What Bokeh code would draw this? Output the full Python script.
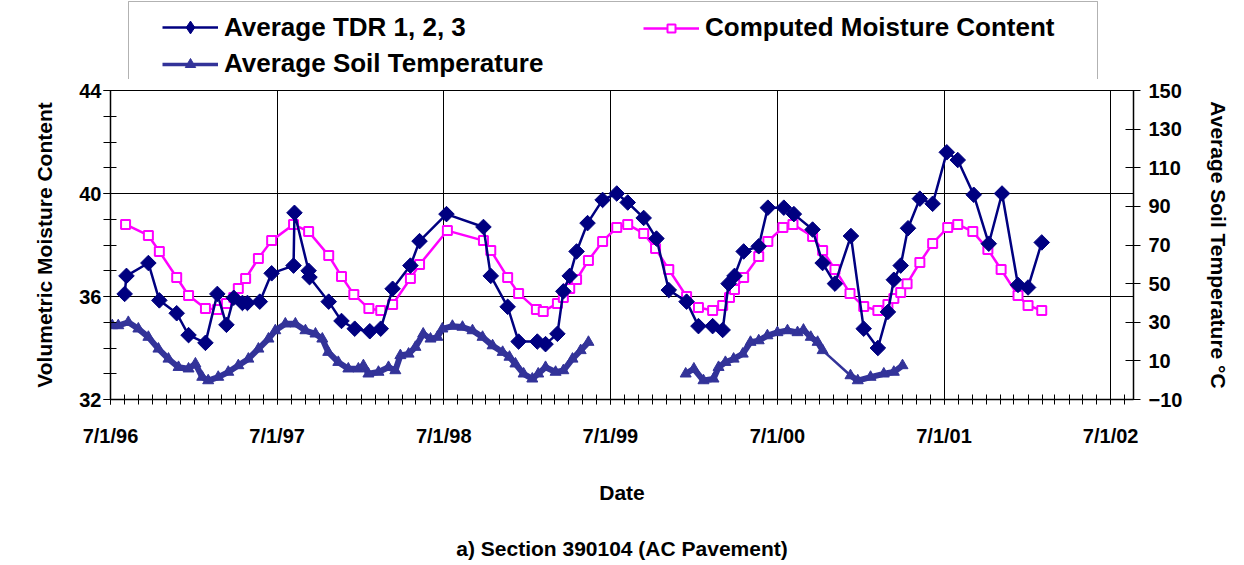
import math
import pandas as pd
from bokeh.plotting import figure
from bokeh.layouts import column
from bokeh.models import (Range1d, LinearAxis, FixedTicker, Legend, LegendItem,
                          BoxAnnotation)
from bokeh.embed import file_html
from bokeh.resources import INLINE

FONT = "Liberation Sans"

# ---------------- data ----------------
tdr_dates = [
    "1996-08-01", "1996-08-05", "1996-09-22", "1996-10-16", "1996-11-23", "1996-12-19",
    "1997-01-25", "1997-02-20", "1997-03-12", "1997-03-28", "1997-04-16", "1997-04-27",
    "1997-05-24", "1997-06-19", "1997-08-06", "1997-08-08", "1997-09-08", "1997-09-10",
    "1997-10-22", "1997-11-19", "1997-12-18", "1998-01-20", "1998-02-13", "1998-03-11",
    "1998-04-19", "1998-05-09", "1998-07-07", "1998-09-26", "1998-10-12", "1998-11-18",
    "1998-12-12", "1999-01-22", "1999-02-09", "1999-03-07", "1999-03-20", "1999-04-03",
    "1999-04-18", "1999-05-12", "1999-06-14", "1999-07-15", "1999-08-08", "1999-09-12",
    "1999-10-10", "1999-11-06", "1999-12-15", "2000-01-10", "2000-02-10", "2000-03-03",
    "2000-03-16", "2000-03-29", "2000-04-18", "2000-05-21", "2000-06-10", "2000-07-15",
    "2000-08-06", "2000-09-16", "2000-10-08", "2000-11-04", "2000-12-09", "2001-01-06",
    "2001-02-06", "2001-02-28", "2001-03-13", "2001-03-28", "2001-04-13", "2001-05-09",
    "2001-06-06", "2001-07-07", "2001-07-31", "2001-09-04", "2001-10-07", "2001-11-05",
    "2001-12-10", "2002-01-01", "2002-01-31",
]
tdr_values = [
    36.1, 36.8, 37.3, 35.85, 35.35, 34.5,
    34.2, 36.1, 34.9, 35.95, 35.75, 35.75,
    35.8, 36.9, 37.2, 39.25, 37.0, 36.75,
    35.8, 35.05, 34.75, 34.65, 34.75, 36.3,
    37.2, 38.15, 39.2, 38.7, 36.8, 35.6,
    34.25, 34.25, 34.15, 34.55, 36.2, 36.8,
    37.75, 38.85, 39.75, 40.0, 39.65, 39.05,
    38.25, 36.25, 35.8, 34.85, 34.85, 34.7,
    36.5, 36.8, 37.75, 37.95, 39.45, 39.45,
    39.2, 38.6, 37.3, 36.5, 38.35, 34.75,
    34.0, 35.4, 36.65, 37.2, 38.65, 39.8,
    39.6, 41.6, 41.3, 39.95, 38.05, 40.0,
    36.45, 36.35, 38.1,
]

mc_dates = [
    "1996-08-03", "1996-09-22", "1996-10-16", "1996-11-23", "1996-12-19", "1997-01-25",
    "1997-02-20", "1997-03-12", "1997-03-28", "1997-04-07", "1997-04-23", "1997-05-21",
    "1997-06-19", "1997-08-06", "1997-09-08", "1997-10-22", "1997-11-19", "1997-12-16",
    "1998-01-18", "1998-02-13", "1998-03-11", "1998-04-19", "1998-05-09", "1998-07-09",
    "1998-09-26", "1998-10-12", "1998-11-18", "1998-12-12", "1999-01-20", "1999-02-04",
    "1999-03-07", "1999-03-20", "1999-04-03", "1999-04-18", "1999-05-14", "1999-06-14",
    "1999-07-15", "1999-08-08", "1999-09-12", "1999-10-08", "1999-11-06", "1999-12-15",
    "2000-01-10", "2000-02-10", "2000-03-03", "2000-03-18", "2000-03-29", "2000-04-18",
    "2000-05-21", "2000-06-10", "2000-07-13", "2000-08-04", "2000-09-16", "2000-10-08",
    "2000-11-04", "2000-12-07", "2001-01-06", "2001-02-06", "2001-02-28", "2001-03-13",
    "2001-03-28", "2001-04-11", "2001-05-09", "2001-06-06", "2001-07-09", "2001-07-31",
    "2001-09-02", "2001-10-05", "2001-11-03", "2001-12-10", "2002-01-01", "2002-01-31",
]
mc_values = [
    38.8, 38.37, 37.75, 36.74, 36.04, 35.53,
    35.5, 35.73, 35.96, 36.31, 36.7, 37.48,
    38.17, 38.8, 38.52, 37.59, 36.78, 36.08,
    35.53, 35.46, 35.69, 36.7, 37.24, 38.56,
    38.17, 37.79, 36.74, 36.12, 35.5, 35.42,
    35.73, 35.96, 36.31, 36.66, 37.4, 38.14,
    38.68, 38.8, 38.45, 37.86, 37.05, 36.0,
    35.57, 35.46, 35.65, 35.96, 36.27, 36.74,
    37.55, 38.14, 38.68, 38.8, 38.33, 37.79,
    37.05, 36.12, 35.61, 35.46, 35.69, 35.92,
    36.16, 36.5, 37.32, 38.06, 38.68, 38.8,
    38.52, 37.83, 37.05, 36.04, 35.65, 35.46,
]

temp_dates = [
    "1996-07-05", "1996-07-18", "1996-08-09", "1996-08-31", "1996-09-22", "1996-10-14",
    "1996-11-05", "1996-11-27", "1996-12-19", "1997-01-03", "1997-01-18", "1997-01-31",
    "1997-02-22", "1997-03-16", "1997-04-07", "1997-04-29", "1997-05-21", "1997-06-12",
    "1997-06-27", "1997-07-19", "1997-08-10", "1997-09-01", "1997-09-23", "1997-10-08",
    "1997-10-21", "1997-11-12", "1997-12-04", "1997-12-26", "1998-01-06", "1998-01-17",
    "1998-02-08", "1998-03-02", "1998-03-17", "1998-03-28", "1998-04-15", "1998-04-30",
    "1998-05-17", "1998-06-02", "1998-06-17", "1998-06-28", "1998-07-20", "1998-08-11",
    "1998-09-02", "1998-09-24", "1998-10-16", "1998-11-07", "1998-11-22", "1998-12-05",
    "1998-12-23", "1999-01-11", "1999-01-24", "1999-02-09", "1999-03-03", "1999-03-20",
    "1999-04-09", "1999-04-27", "1999-05-14",
    "1999-09-01",
    "1999-12-13", "1999-12-31", "2000-01-21", "2000-02-12", "2000-02-23", "2000-03-09",
    "2000-03-27", "2000-04-16", "2000-05-03", "2000-05-21", "2000-06-09", "2000-07-01",
    "2000-07-23", "2000-08-14", "2000-08-27", "2000-09-12", "2000-09-27", "2000-10-08",
    "2000-12-08", "2000-12-24", "2001-01-21", "2001-02-19", "2001-03-13", "2001-04-01",
]
temp_values = [
    28.3, 28.3, 30.0, 26.6, 22.3, 16.2,
    11.0, 6.7, 5.9, 8.5, 1.6, -0.2,
    1.6, 4.2, 7.6, 11.0, 16.2, 21.4,
    25.7, 29.2, 29.2, 25.7, 24.0, 21.4,
    14.5, 9.3, 5.9, 5.9, 7.6, 3.3,
    4.2, 6.7, 5.0, 12.8, 13.6, 17.1,
    24.0, 21.4, 22.3, 26.6, 28.0, 27.5,
    25.7, 22.3, 17.9, 14.5, 12.0, 8.5,
    3.3, 0.7, 3.3, 6.7, 4.2, 5.0,
    11.0, 15.4, 19.7,
    float("nan"),
    3.3, 5.9, -0.2, 0.7, 6.7, 9.3,
    11.0, 13.6, 19.7, 20.5, 23.1, 24.7,
    25.7, 24.7, 26.0, 22.3, 19.7, 15.4,
    2.4, -0.2, 1.6, 3.3, 4.2, 7.6,
]
# index where the logger record resumes after the gap (Oct 2000 -> Dec 2000)
temp_resume = 76

tick_dates = ["1996-07-01", "1997-07-01", "1998-07-01", "1999-07-01",
              "2000-07-01", "2001-07-01", "2002-07-01"]
tick_labels = ["7/1/96", "7/1/97", "7/1/98", "7/1/99", "7/1/00", "7/1/01", "7/1/02"]
left_ticks = [32, 36, 40, 44]
right_ticks = [-10, 10, 30, 50, 70, 90, 110, 130, 150]

NAVY = "#000080"
MAG = "#FF00FF"
TEMP = "#333399"

TOP_H = 79          # height of the legend strip
W, H = 1244, 565
FL, FR = 110, 1133  # frame left / right (shared by both stacked figures)

# ---------------- main figure ----------------
def ms(s):
    return int(pd.Timestamp(s).value // 10**6)

p = figure(width=W, height=H - TOP_H, x_axis_type="datetime",
           output_backend="svg", toolbar_location=None,
           x_range=Range1d(pd.Timestamp("1996-07-01"), pd.Timestamp("2002-08-20")),
           y_range=Range1d(32, 44),
           min_border_left=FL, min_border_right=W - FR,
           min_border_top=90 - TOP_H, min_border_bottom=166)
p.background_fill_color = "white"
p.border_fill_color = "white"
p.outline_line_color = "black"
p.outline_line_width = 1
p.extra_y_ranges = {"temp": Range1d(-10, 150)}

def style_axis(ax, size="20px"):
    ax.major_label_text_font = FONT
    ax.major_label_text_font_style = "bold"
    ax.major_label_text_font_size = size
    ax.major_label_text_color = "black"
    ax.axis_label_text_font = FONT
    ax.axis_label_text_font_style = "bold"
    ax.axis_label_text_font_size = "21px"
    ax.axis_label_text_color = "black"
    ax.axis_line_color = "black"
    ax.axis_line_width = 1.5
    ax.major_tick_line_color = "black"
    ax.minor_tick_line_color = "black"
    ax.major_tick_line_width = 1
    ax.minor_tick_line_width = 1

# x axis
major = [ms(d) for d in tick_dates]
minor = [ms(d) for d in pd.date_range("1996-07-01", "2002-08-01", freq="MS")]
xa = p.xaxis[0]
xa.ticker = FixedTicker(ticks=major, minor_ticks=minor)
xa.major_label_overrides = {m: l for m, l in zip(major, tick_labels)}
xa.axis_label = "Date"
style_axis(xa)
xa.major_tick_in = 5
xa.major_tick_out = 5
xa.minor_tick_in = 5
xa.minor_tick_out = 5
xa.major_label_standoff = 20
xa.axis_label_standoff = 31

# caption carried by a tick-less second bottom axis
cap = LinearAxis(ticker=FixedTicker(ticks=[], minor_ticks=[]),
                 axis_label="a) Section 390104 (AC Pavement)")
style_axis(cap)
cap.axis_line_color = None
cap.major_tick_in = 0
cap.major_tick_out = 0
cap.minor_tick_in = 0
cap.minor_tick_out = 0
cap.major_label_standoff = 0
cap.axis_label_standoff = 30
p.add_layout(cap, "below")

# left axis
ya = p.yaxis[0]
ya.ticker = FixedTicker(ticks=left_ticks, minor_ticks=list(range(32, 45)))
ya.axis_label = "Volumetric Moisture Content"
style_axis(ya)
ya.major_tick_in = 6
ya.major_tick_out = 7
ya.minor_tick_in = 6
ya.minor_tick_out = 7
ya.major_label_standoff = 2
ya.axis_label_standoff = 20

# right axis
ra = LinearAxis(y_range_name="temp",
                ticker=FixedTicker(ticks=right_ticks, minor_ticks=[]),
                axis_label="Average Soil Temperature °C")
style_axis(ra)
ra.axis_label_orientation = "vertical"
ra.major_tick_in = 8
ra.major_tick_out = 7
ra.minor_tick_in = 0
ra.minor_tick_out = 0
ra.major_label_standoff = 8
ra.axis_label_standoff = 22
p.add_layout(ra, "right")

# grids
p.xgrid.grid_line_color = "black"
p.xgrid.grid_line_width = 1
p.ygrid.grid_line_color = "black"
p.ygrid.grid_line_width = 1

# ---------------- series ----------------
tdr_x = pd.to_datetime(tdr_dates)
mc_x = pd.to_datetime(mc_dates)
temp_x = pd.to_datetime(temp_dates)

# dense logger record -> thick band; the unrecorded stretch is a plain thin line
p.line(temp_x[:temp_resume], temp_values[:temp_resume], y_range_name="temp",
       color=TEMP, line_width=6)
p.line(temp_x[temp_resume:], temp_values[temp_resume:], y_range_name="temp",
       color=TEMP, line_width=6)
p.line(temp_x, temp_values, y_range_name="temp", color=TEMP, line_width=2.5)
p.scatter(temp_x, temp_values, y_range_name="temp", marker="triangle",
          size=11, color=TEMP)

p.line(mc_x, mc_values, color=MAG, line_width=2.5)
p.scatter(mc_x, mc_values, marker="square", size=9, fill_color="white",
          line_color=MAG, line_width=2)

p.line(tdr_x, tdr_values, color=NAVY, line_width=2.5)
p.scatter(tdr_x, tdr_values, marker="square", angle=math.pi / 4, size=11,
          color=NAVY)

# ---------------- legend strip (its frame lines up with the main frame) ----------------
top = figure(width=W, height=TOP_H, output_backend="svg", toolbar_location=None,
             x_range=Range1d(FL, FR), y_range=Range1d(TOP_H, 0),
             x_axis_type=None, y_axis_type=None,
             min_border_left=FL, min_border_right=W - FR,
             min_border_top=0, min_border_bottom=0)
top.outline_line_color = None
top.background_fill_color = "white"
top.border_fill_color = "white"
top.grid.visible = False

top.add_layout(BoxAnnotation(left=128, right=1097, top=1, bottom=TOP_H + 10,
                             fill_color="white", fill_alpha=1,
                             line_color="black", line_width=1))

# legend swatches: same styles as the series, fed with the series' first
# record (which lies far outside this strip's ranges, so only the swatch shows)
lg_d_line = top.line(tdr_x[:1], tdr_values[:1], color=NAVY, line_width=2.5)
lg_d_pts = top.scatter(tdr_x[:1], tdr_values[:1], marker="diamond", size=13, color=NAVY)
lg_t_line = top.line(temp_x[:1], temp_values[:1], color=TEMP, line_width=3.5)
lg_t_pts = top.scatter(temp_x[:1], temp_values[:1], marker="triangle", size=11, color=TEMP)
lg_m_line = top.line(mc_x[:1], mc_values[:1], color=MAG, line_width=2.5)
lg_m_pts = top.scatter(mc_x[:1], mc_values[:1], marker="square", size=9,
                       fill_color="white", line_color=MAG, line_width=2)

def make_legend(label, renderers, x, y, glyph_h):
    lg = Legend(items=[LegendItem(label=label, renderers=renderers)], location=(x - FL, y))
    lg.label_text_font = FONT
    lg.label_text_font_style = "bold"
    lg.label_text_font_size = "26px"
    lg.label_text_color = "black"
    lg.border_line_alpha = 0
    lg.background_fill_alpha = 0
    lg.margin = 0
    lg.padding = 0
    lg.glyph_width = 56
    lg.glyph_height = glyph_h
    lg.label_standoff = 6
    top.add_layout(lg)
    return lg

make_legend("Average TDR 1, 2, 3", [lg_d_line, lg_d_pts], 162, 36, 32)
make_legend("Average Soil Temperature", [lg_t_line, lg_t_pts], 162, 0, 26)
make_legend("Computed Moisture Content", [lg_m_line, lg_m_pts], 643, 36, 20)

layout = column(top, p)
open("out.html", "w").write(file_html(layout, INLINE))
